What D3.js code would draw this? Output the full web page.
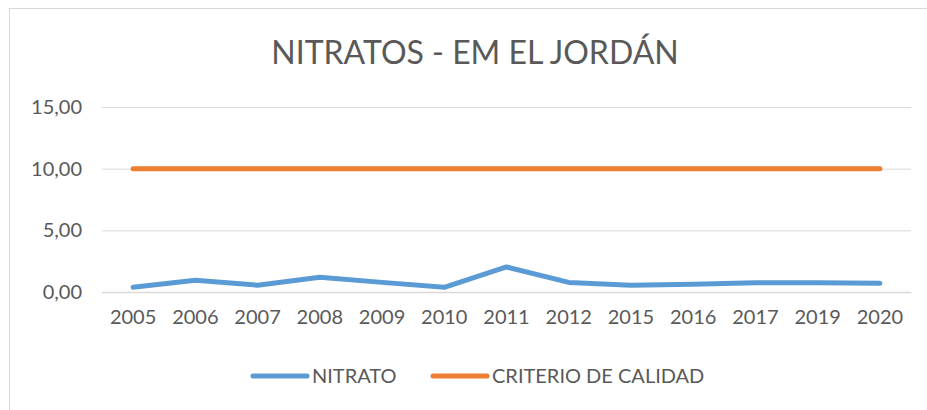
<!DOCTYPE html>
<html><head><meta charset="utf-8">
<script src="https://cdn.jsdelivr.net/npm/d3@7"></script>
<style>body{margin:0;background:#fff}svg{display:block}text{font-family:Lato,"Open Sans",sans-serif;fill:#595959}</style>
</head><body>
<script>
const years = ["2005","2006","2007","2008","2009","2010","2011","2012","2015","2016","2017","2019","2020"];
const nitrato = [0.38,0.95,0.55,1.19,0.78,0.38,2.03,0.78,0.55,0.62,0.75,0.75,0.70];
const criterio = [10,10,10,10,10,10,10,10,10,10,10,10,10];
const yTicks = [0,5,10,15];
const seriesNames = ["NITRATO","CRITERIO DE CALIDAD"];
const colors = ["#5B9BD5","#ED7D31"];

const W=927,H=410;
const svg=d3.select("body").append("svg").attr("width",W).attr("height",H);
svg.append("rect").attr("x",9.5).attr("y",8.5).attr("width",W).attr("height",H).attr("fill","none").attr("stroke","#d9d9d9");

const x=d3.scaleBand().domain(years).range([102,911]);
const y=d3.scaleLinear().domain([0,15]).range([292,107]);

svg.append("text").attr("x",475).attr("y",64).attr("text-anchor","middle").attr("font-size",32).text("NITRATOS - EM EL JORDÁN");

const gy=svg.append("g").attr("transform","translate(102,0)").call(d3.axisLeft(y).tickValues(yTicks).tickSize(-809).tickFormat(d=>d3.format(".2f")(d).replace(".",",")));
gy.select(".domain").remove();
gy.selectAll(".tick line").attr("stroke","#d9d9d9").attr("stroke-width",1);
gy.selectAll(".tick text").attr("x",-20).attr("font-size",20).attr("fill","#595959");

const gx=svg.append("g").attr("transform","translate(0,292)").call(d3.axisBottom(x).tickSize(0));
gx.select(".domain").attr("stroke","#d9d9d9").attr("stroke-width",1.5);
gx.selectAll(".tick text").attr("y",18).attr("dy","0.71em").attr("font-size",20).attr("fill","#595959");

const line=d3.line().x((d,i)=>x(years[i])+x.bandwidth()/2).y(d=>y(d));
[nitrato,criterio].forEach((s,i)=>{
  svg.append("path").datum(s).attr("d",line).attr("fill","none").attr("stroke",colors[i]).attr("stroke-width",5).attr("stroke-linecap","round").attr("stroke-linejoin","round");
});

const legX=[253,433];
seriesNames.forEach((n,i)=>{
  svg.append("line").attr("x1",legX[i]).attr("x2",legX[i]+54).attr("y1",376).attr("y2",376).attr("stroke",colors[i]).attr("stroke-width",5).attr("stroke-linecap","round");
  svg.append("text").attr("x",legX[i]+59).attr("y",383).attr("font-size",20).text(n);
});
</script>
</body></html>
